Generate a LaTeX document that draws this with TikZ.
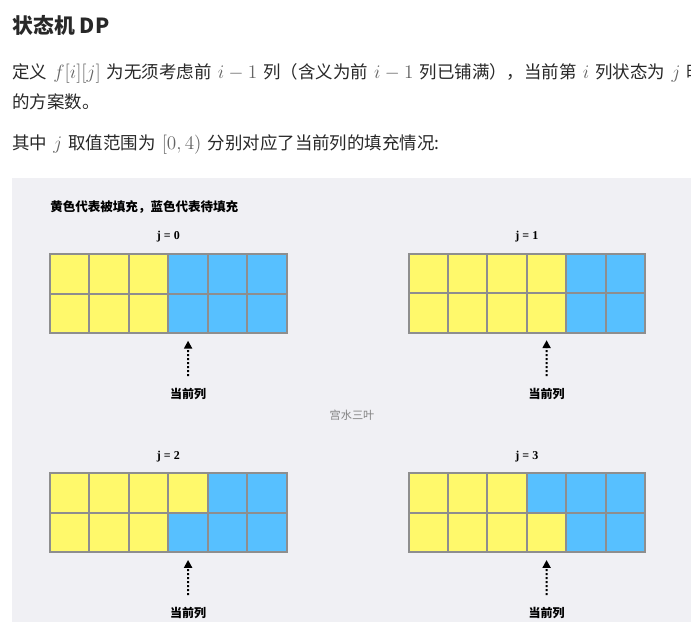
\documentclass[tikz,border=0pt]{standalone}
\usepackage{fontspec}
\setmainfont{Liberation Serif}
\newfontfamily\cjk{Noto Sans CJK SC}
\usetikzlibrary{arrows.meta}
\definecolor{panelbg}{RGB}{240,240,244}
\definecolor{yellowcell}{RGB}{255,249,107}
\definecolor{bluecell}{RGB}{87,192,255}
\definecolor{gridgray}{RGB}{142,142,142}
\definecolor{bodytext}{RGB}{40,40,40}
\definecolor{mathgray}{RGB}{100,100,100}
\definecolor{wmgray}{RGB}{130,130,130}
\newcommand\mth[1]{\hspace{4.6pt}{\fontsize{14.4}{17}\selectfont\color{mathgray}$#1$}\hspace{4.6pt}}
\newcommand\drawgrid[5]{%
  \foreach \c in {1,...,6}{%
    \pgfmathsetmacro\cx{#2+(\c-0.5)*39.45}%
    \ifnum\c>#4 \def\ft{bluecell}\else\def\ft{yellowcell}\fi
    \node[cell,fill=\ft] (#1-\c-1) at (\cx,#3+19.75) {};
    \ifnum\c>#5 \def\fb{bluecell}\else\def\fb{yellowcell}\fi
    \node[cell,fill=\fb] (#1-\c-2) at (\cx,#3+59.25) {};
  }%
}
\begin{document}
\begin{tikzpicture}[x=0.75pt,y=-0.75pt,
  cell/.style={rectangle,draw=gridgray,line width=1.5pt,inner sep=0pt,
    minimum width=29.59pt,minimum height=29.62pt},
  bodyline/.style={anchor=base west,inner sep=0pt,text=bodytext,
    font=\cjk\fontsize{13.1}{15}\selectfont},
  heading/.style={anchor=base west,inner sep=0pt,text=bodytext,
    font=\cjk\bfseries\fontsize{15.6}{18}\selectfont},
  legend/.style={anchor=west,inner sep=0pt,text=black,
    font=\cjk\bfseries\fontsize{9.4}{11}\selectfont},
  jlabel/.style={inner sep=0pt,text=black,font=\bfseries\fontsize{9}{11}\selectfont},
  curlabel/.style={inner sep=0pt,text=black,font=\cjk\bfseries\fontsize{9}{11}\selectfont},
  watermark/.style={inner sep=0pt,text=wmgray,font=\cjk\fontsize{8.4}{10}\selectfont},
  curarrow/.style={line width=1.5pt,dash pattern=on 1.5pt off 1.5pt,
    -{Triangle[length=6pt,width=6pt]}}]
\useasboundingbox (0,0) rectangle (691,622);
\clip (0,0) rectangle (691,622);
\fill[white] (0,0) rectangle (691,622);
% text above
\node[heading] (title) at (12.5,33.5) {状态机 DP};
\node[bodyline] (line1) at (12,78.6) {定义\mth{f[i][j]}为无须考虑前\mth{i-1}列（含义为前\mth{i-1}列已铺满），当前第\mth{i}列状态为\mth{j}时};
\node[bodyline] (line2) at (12,108.6) {的方案数。};
\node[bodyline] (line3) at (12,149.6) {其中\mth{j}取值范围为\mth{[0,4)}分别对应了当前列的填充情况:};
% panel
\fill[panelbg] (12,178) rectangle (691,622);
\node[legend] (legend) at (50,206.7) {黄色代表被填充，蓝色代表待填充};
\node[watermark] (wm) at (352,415) {宫水三叶};
% grids
\drawgrid{ga}{50}{254}{3}{3}
\drawgrid{gb}{408.5}{253.5}{4}{4}
\drawgrid{gc}{50}{473.2}{4}{3}
\drawgrid{gd}{408.5}{473.3}{3}{4}
% j labels
\node[jlabel] (ja) at (168.35,236.7) {j = 0};
\node[jlabel] (jb) at (526.85,236.7) {j = 1};
\node[jlabel] (jc) at (168.35,456.7) {j = 2};
\node[jlabel] (jd) at (526.85,456.7) {j = 3};
% current column labels and arrows
\node[curlabel] (ca) at (188.1,393.5) {当前列};
\node[curlabel] (cb) at (546.6,393.5) {当前列};
\node[curlabel] (cc) at (188.1,613.3) {当前列};
\node[curlabel] (cd) at (546.6,613.3) {当前列};
\coordinate (sa) at (188.1,376);
\coordinate (sb) at (546.6,376);
\coordinate (sc) at (188.1,595);
\coordinate (sd) at (546.6,595);
\draw[curarrow] (sa) -- ([yshift=-5pt]ga-4-2.south);
\draw[curarrow] (sb) -- ([yshift=-5pt]gb-4-2.south);
\draw[curarrow] (sc) -- ([yshift=-5pt]gc-4-2.south);
\draw[curarrow] (sd) -- ([yshift=-5pt]gd-4-2.south);
\end{tikzpicture}
\end{document}
